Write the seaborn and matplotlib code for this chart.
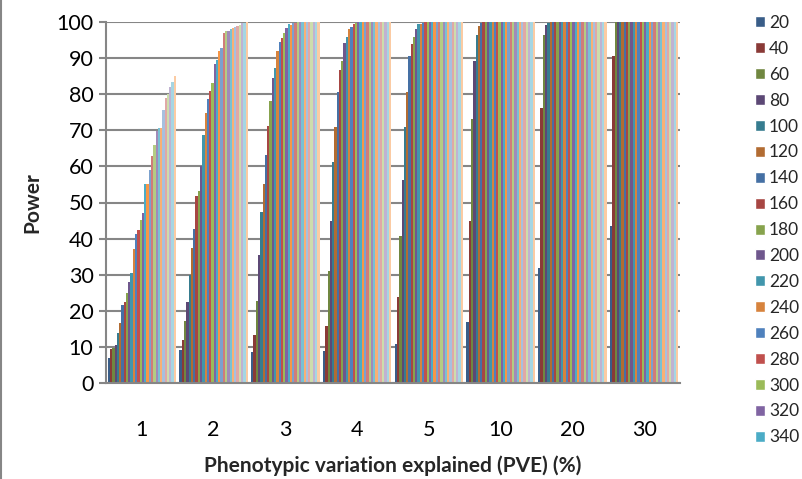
import numpy as np
import pandas as pd
import matplotlib
matplotlib.use("Agg")
import matplotlib.pyplot as plt
import seaborn as sns
from matplotlib.patches import Patch
from matplotlib.lines import Line2D
from matplotlib.colors import to_rgb

# categories on the x axis (PVE, %)
pve = ["1", "2", "3", "4", "5", "10", "20", "30"]

# sample sizes (one series each)
sizes = [20, 40, 60, 80, 100, 120, 140, 160, 180, 200,
         220, 240, 260, 280, 300, 320, 340, 360, 380, 400,
         420, 440, 460, 480, 500, 520, 540, 560, 580, 600]

# power (%) per sample size, one list per PVE group
power_pve1 = [6.8, 9.5, 9.8, 10.5, 13.8, 16.5, 21.5, 22.5, 24.8, 28.0,
              30.5, 37.0, 41.2, 42.4, 45.2, 47.2, 55.0, 55.0, 59.1, 63.0,
              66.0, 69.8, 70.7, 70.7, 75.5, 79.0, 80.0, 82.0, 83.5, 85.0]
power_pve2 = [9.1, 11.9, 17.2, 22.5, 29.9, 37.3, 42.6, 51.7, 53.1, 60.0,
              68.8, 74.8, 78.7, 80.8, 83.1, 88.5, 89.4, 91.9, 92.7, 96.9,
              97.6, 97.4, 98.0, 98.3, 98.6, 99.0, 99.3, 99.6, 99.8, 100.0]
power_pve3 = [8.6, 13.3, 22.7, 35.5, 47.4, 55.1, 63.1, 71.2, 78.0, 84.5,
              87.3, 91.9, 94.5, 95.6, 97.0, 98.4, 99.4, 99.1, 99.6, 99.8,
              100, 100, 100, 100, 100, 100, 100, 100, 100, 100]
power_pve4 = [8.8, 15.8, 31.1, 44.8, 61.3, 71.0, 80.6, 86.8, 89.3, 94.2,
              95.9, 98.0, 98.7, 99.4, 99.8, 100, 100, 100, 100, 100,
              100, 100, 100, 100, 100, 100, 100, 100, 100, 100]
power_pve5 = [10.7, 23.7, 40.7, 56.2, 71.0, 80.6, 90.5, 94.0, 95.9, 98.0,
              99.4, 99.4, 99.8, 100, 100, 100, 100, 100, 100, 100,
              100, 100, 100, 100, 100, 100, 100, 100, 100, 100]
power_pve10 = [17.0, 45.0, 73.2, 89.1, 96.4, 98.9, 99.6, 100, 100, 100,
               100, 100, 100, 100, 100, 100, 100, 100, 100, 100,
               100, 100, 100, 100, 100, 100, 100, 100, 100, 100]
power_pve20 = [31.8, 76.3, 96.4, 99.1, 99.8, 100, 100, 100, 100, 100,
               100, 100, 100, 100, 100, 100, 100, 100, 100, 100,
               100, 100, 100, 100, 100, 100, 100, 100, 100, 100]
power_pve30 = [43.6, 90.5, 99.9, 100, 100, 100, 100, 100, 100, 100,
               100, 100, 100, 100, 100, 100, 100, 100, 100, 100,
               100, 100, 100, 100, 100, 100, 100, 100, 100, 100]

groups = [power_pve1, power_pve2, power_pve3, power_pve4,
          power_pve5, power_pve10, power_pve20, power_pve30]

rows = []
for cat, vals in zip(pve, groups):
    for n, v in zip(sizes, vals):
        rows.append({"PVE": cat, "N": str(n), "Power": v})
df = pd.DataFrame(rows)

# Office 2007 style colours: accents repeated in darker -> lighter bands
accents = ["#4F81BD", "#C0504D", "#9BBB59", "#8064A2", "#4BACC6", "#F79646"]
def shade(c, f):
    return tuple(x * f for x in to_rgb(c))
def tint(c, f):
    return tuple(x + (1 - x) * f for x in to_rgb(c))
bands = [lambda c: shade(c, 0.72), lambda c: shade(c, 0.87), lambda c: to_rgb(c),
         lambda c: tint(c, 0.25), lambda c: tint(c, 0.5)]
colors = [bands[i // 6](accents[i % 6]) for i in range(len(sizes))]

sns.set_theme(style="white")
plt.rcParams["font.family"] = ["Lato", "DejaVu Sans"]

fig = plt.figure(figsize=(8.03, 4.79), dpi=100)
ax = fig.add_axes([106 / 803, 1 - 383 / 479, 574 / 803, 361 / 479])

sns.barplot(data=df, x="PVE", y="Power", hue="N", order=pve,
            hue_order=[str(s) for s in sizes], palette=colors,
            width=0.952, gap=0, linewidth=0, saturation=1,
            errorbar=None, legend=False, ax=ax)

grey = "#868686"
ax.set_ylim(0, 100)
ax.set_xlim(-0.5, 7.5)
ax.set_yticks(range(0, 101, 10))
ax.yaxis.grid(True, color=grey, linewidth=1.5)
ax.set_axisbelow(True)
for s in ["top", "right"]:
    ax.spines[s].set_visible(False)
for s in ["left", "bottom"]:
    ax.spines[s].set_color(grey)
    ax.spines[s].set_linewidth(1.5)

ax.set_xticks(np.arange(-0.5, 8, 1), minor=True)
ax.tick_params(axis="x", which="major", length=0, pad=27, labelsize=15.5, labelcolor="black")
ax.tick_params(axis="x", which="minor", length=7, width=1.5, color=grey)
ax.tick_params(axis="y", length=5, width=1.5, color=grey, labelsize=15.5,
               labelcolor="black", left=True, pad=4)

ax.set_xlabel("Phenotypic variation explained (PVE) (%)", fontsize=15,
              fontweight="bold", va="center")
ax.xaxis.set_label_coords(0.5, -(466 - 383) / 361)
ax.set_ylabel("Power", fontsize=15, fontweight="bold", va="center")
ax.yaxis.set_label_coords(-(106 - 32) / 574, 0.5)

# chart border remnant on the left edge
fig.add_artist(Line2D([0.0015, 0.0015], [0, 1], color=grey, lw=1.5))

# Excel cuts the legend off after 340
handles = [Patch(facecolor=colors[i], label=str(sizes[i])) for i in range(17)]
fig.legend(handles=handles, loc="upper left", bbox_to_anchor=(755 / 803, 1 - 15 / 479),
           frameon=False, fontsize=12.5, handlelength=0.6, handleheight=0.6,
           handletextpad=0.2, labelspacing=0.57, borderpad=0, borderaxespad=0)

fig.savefig("out.png", dpi=100)
